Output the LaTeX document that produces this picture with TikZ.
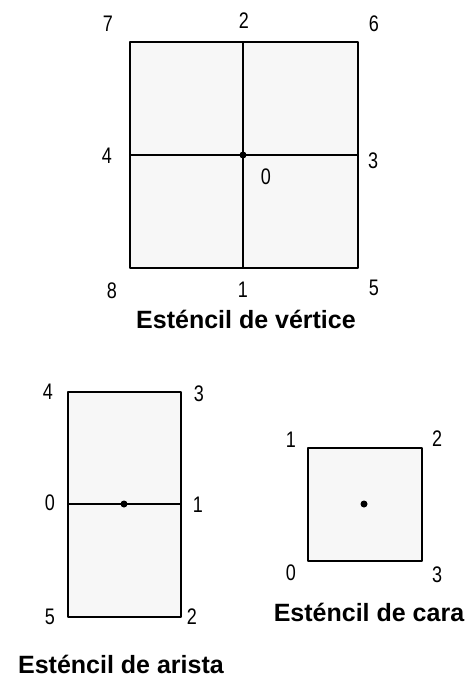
\documentclass[tikz,border=0pt]{standalone}
\usepackage{fontspec}
\setmainfont{Liberation Sans}
\newfontfamily\digitfont{Liberation Sans}[FakeStretch=0.8]
\usepackage{xcolor}
\definecolor{cellfill}{HTML}{F7F7F7}
\usetikzlibrary{positioning}

\begin{document}
\begin{tikzpicture}[x=1pt, y=-1pt,
		cell/.style={draw=black, fill=cellfill, line width=2.5pt, line join=round},
		grid/.style={draw=black, line width=2.5pt},
		num/.style={font=\digitfont\fontsize{22.5}{22.5}\selectfont, inner sep=0pt},
		caption/.style={font=\bfseries\fontsize{25}{25}\selectfont, inner sep=0pt, anchor=base}]

		% page frame, pixel units
		\useasboundingbox (0,0) rectangle (466,677);

		% ================= Vertex stencil: 2x2 cells around node 0 =================
		\begin{scope}
			\coordinate (VTL) at (130,42);
			\coordinate (VBR) at (358,268);
			\coordinate (VC) at (243,155);

			\draw[cell] (VTL) rectangle (VBR);
			\draw[grid] (VC |- VTL) -- (VC |- VBR);
			\draw[grid] (VC -| VTL) -- (VC -| VBR);
			\fill (VC) circle (3.5);

			\node[num] (v7) at (108,24) {7};
			\node[num] (v2) at (244,21) {2};
			\node[num] (v6) at (374,24) {6};
			\node[num] (v4) at (107,156) {4};
			\node[num] (v3) at (373,161) {3};
			\node[num] (v0) at (266,177) {0};
			\node[num] (v8) at (112,291) {8};
			\node[num] (v1) at (243,290) {1};
			\node[num] (v5) at (374,288) {5};

			\node[caption] (vtitle) at (246,328) {Esténcil de vértice};
		\end{scope}

		% ================= Edge stencil: two cells stacked =================
		\begin{scope}
			\coordinate (ETL) at (68,392);
			\coordinate (EBR) at (181,617);
			\coordinate (EC) at (124,504);

			\draw[cell] (ETL) rectangle (EBR);
			\draw[grid] (EC -| ETL) -- (EC -| EBR);
			\fill (EC) circle (3.5);

			\node[num] (e4) at (48,392) {4};
			\node[num] (e3) at (199,394) {3};
			\node[num] (e0) at (50,503) {0};
			\node[num] (e1) at (198,505) {1};
			\node[num] (e5) at (50,617) {5};
			\node[num] (e2) at (192,617) {2};

			\node[caption] (etitle) at (121,673) {Esténcil de arista};
		\end{scope}

		% ================= Face stencil: one cell =================
		\begin{scope}
			\coordinate (FTL) at (308,448);
			\coordinate (FBR) at (422,561);
			\coordinate (FC) at (364,504);

			\draw[cell] (FTL) rectangle (FBR);
			\fill (FC) circle (3.5);

			\node[num] (f1) at (291,440) {1};
			\node[num] (f2) at (437,439) {2};
			\node[num] (f0) at (291,573) {0};
			\node[num] (f3) at (437,575) {3};

			\node[caption] (ftitle) at (369,621) {Esténcil de cara};
		\end{scope}
	\end{tikzpicture}
\end{document}
